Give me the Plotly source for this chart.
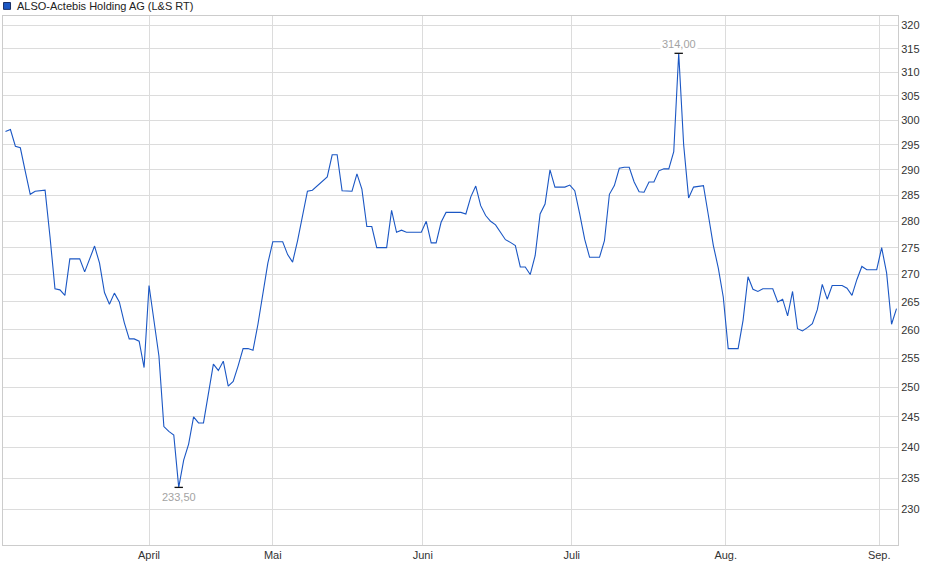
import math
import plotly.graph_objects as go

# price per trading point (L&S realtime)
prices = [
    297.7, 298.1, 294.7, 294.4, 289.7, 285.2, 285.8, 285.9, 286.0, 277.0,
    267.4, 267.2, 266.2, 272.9, 272.9, 272.9, 270.5, 272.9, 275.3, 272.1,
    266.7, 264.6, 266.6, 265.0, 261.3, 258.4, 258.4, 258.0, 253.4, 268.0,
    261.6, 255.4, 243.4, 242.6, 242.0, 233.5, 237.9, 240.5, 245.0, 244.0,
    244.0, 248.9, 254.0, 252.9, 254.5, 250.2, 251.0, 253.7, 256.7, 256.7,
    256.4, 261.0, 266.7, 272.1, 276.1, 276.1, 276.1, 273.7, 272.3, 276.3,
    281.4, 285.8, 286.0, 286.9, 287.7, 288.6, 293.0, 293.0, 285.9, 285.8,
    285.8, 289.2, 286.2, 279.0, 279.0, 275.0, 275.0, 275.0, 282.1, 277.9,
    278.3, 277.9, 277.9, 277.9, 277.9, 280.0, 275.9, 275.9, 279.8, 281.7,
    281.7, 281.7, 281.7, 281.4, 284.7, 286.8, 283.0, 281.1, 280.0, 279.3,
    277.9, 276.5, 276.0, 275.4, 271.4, 271.4, 270.0, 273.5, 281.4, 283.3,
    290.0, 286.6, 286.6, 286.6, 287.0, 285.9, 281.4, 276.6, 273.2, 273.2,
    273.2, 276.3, 285.2, 286.9, 290.3, 290.5, 290.5, 287.6, 285.7, 285.6,
    287.6, 287.6, 289.8, 290.2, 290.2, 293.6, 314.0, 295.0, 284.5, 286.6,
    286.7, 286.9, 281.1, 275.4, 271.2, 265.9, 256.7, 256.7, 256.7, 261.7,
    269.6, 267.3, 266.9, 267.4, 267.4, 267.4, 265.0, 265.5, 262.5, 266.9,
    260.2, 259.8, 260.4, 261.1, 263.6, 268.2, 265.5, 268.0, 268.0, 268.0,
    267.5, 266.2, 269.1, 271.5, 270.9, 270.9, 270.9, 275.0, 270.3, 261.0,
    263.8,
]
month_labels = ["April", "Mai", "Juni", "Juli", "Aug.", "Sep."]
month_start = [29.0, 54.0, 84.3, 114.4, 145.5, 176.5]  # trading point index of month start
price_ticks = list(range(230, 321, 5))

title = "ALSO-Actebis Holding AG (L&S RT)"
line_col = "#1b57c4"
grid_col = "#dcdcdc"
font = "Liberation Sans, Arial, sans-serif"

idx = list(range(len(prices)))
i_min = min(idx, key=lambda i: prices[i])
i_max = max(idx, key=lambda i: prices[i])

def fmt(v):
    return f"{v:.2f}".replace(".", ",")

fig = go.Figure()
fig.add_trace(go.Scatter(x=idx, y=prices, mode="lines",
                         line=dict(color=line_col, width=1.1),
                         hoverinfo="y", showlegend=False))

# little black bars marking low and high
for i in (i_min, i_max):
    fig.add_trace(go.Scatter(x=[i - 0.85, i + 0.85], y=[prices[i], prices[i]],
                             mode="lines", line=dict(color="#111111", width=1.3),
                             hoverinfo="skip", showlegend=False))

fig.add_annotation(x=i_min, y=math.log10(prices[i_min]), text=fmt(prices[i_min]),
                   showarrow=False, yanchor="top", yshift=-2,
                   font=dict(size=11, color="#a3a3a3", family=font))
fig.add_annotation(x=i_max, y=math.log10(prices[i_max]), text=fmt(prices[i_max]),
                   showarrow=False, yanchor="bottom", yshift=1, bgcolor="white",
                   font=dict(size=11, color="#a3a3a3", family=font))

# header: small blue square + name
fig.add_shape(type="rect", xref="paper", yref="paper",
              x0=0.0006, x1=0.0084, y0=1.0125, y1=1.0255,
              fillcolor=line_col, line=dict(color="#1a2f66", width=1))
fig.add_annotation(xref="paper", yref="paper", x=0.0134, y=1.0195,
                   text=title, showarrow=False, xanchor="left", yanchor="middle",
                   font=dict(size=11, color="#222222", family=font))

fig.update_layout(
    width=940, height=579,
    margin=dict(l=3, r=42, t=16, b=34),
    paper_bgcolor="white", plot_bgcolor="white",
    font=dict(family=font, size=11, color="#333333"),
    xaxis=dict(range=[-0.5, 180.3], tickvals=month_start, ticktext=month_labels,
               showgrid=True, gridcolor=grid_col, gridwidth=1,
               showline=True, linecolor="#cccccc", mirror=True,
               ticks="", zeroline=False, tickfont=dict(size=11)),
    yaxis=dict(type="log", range=[math.log10(224.5), math.log10(322.1)],
               tickvals=price_ticks, ticktext=[str(v) for v in price_ticks],
               side="right", showgrid=True, gridcolor=grid_col, gridwidth=1,
               showline=True, linecolor="#cccccc", mirror=True,
               ticks="", zeroline=False, tickfont=dict(size=11)),
)

# page body has a default 8px margin; drop it so the chart sits at the window corner
fig.write_html("out.html", config={"displayModeBar": False},
               post_script="document.body.style.margin='0px';")
